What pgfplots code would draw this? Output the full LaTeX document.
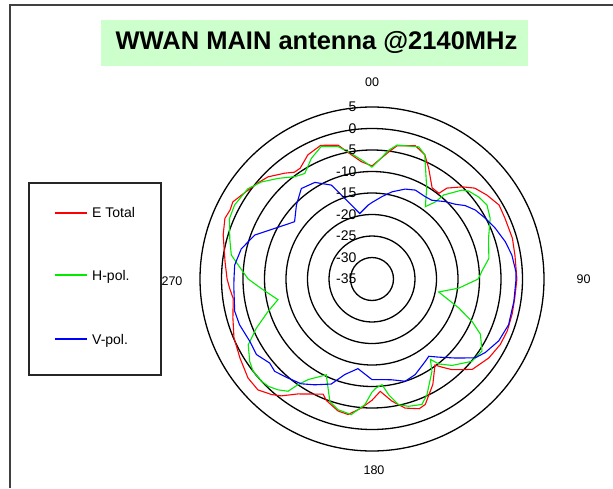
\documentclass[border=0pt]{standalone}
\usepackage{pgfplots}
\pgfplotsset{compat=1.18}
\usepgfplotslibrary{polar}
\usepackage{fontspec}
\setmainfont{Liberation Sans}
\definecolor{titlegreen}{RGB}{204,255,204}
\definecolor{curvered}{RGB}{255,0,0}
\definecolor{curvegreen}{RGB}{0,235,0}
\definecolor{curveblue}{RGB}{0,0,255}
\begin{document}
\begin{tikzpicture}[x=1pt,y=1pt]
\useasboundingbox (0,0) rectangle (613,488);
\fill[white] (0,0) rectangle (613,488);
\draw[black!75, line width=1.5pt] (10,0) -- (10,483) -- (613,483);
\fill[titlegreen] (101,422) rectangle (528,468);
\node[font=\fontsize{25.5}{30}\selectfont\bfseries, anchor=base, inner sep=0pt] at (316.5,438) {WWAN MAIN antenna @2140MHz};
% legend
\draw[black!85, line width=1.5pt, fill=white] (29,113) rectangle (161,305);
\fill[curvered] (55,274) rectangle (87,276);
\fill[curvegreen] (55,212) rectangle (87,214);
\fill[curveblue] (55,148) rectangle (87,150);
\node[anchor=base west, inner sep=0pt, font=\fontsize{14}{16}\selectfont] at (92,270) {E Total};
\node[anchor=base west, inner sep=0pt, font=\fontsize{14}{16}\selectfont] at (92,208) {H-pol.};
\node[anchor=base west, inner sep=0pt, font=\fontsize{14}{16}\selectfont] at (92,144) {V-pol.};
\begin{polaraxis}[
  at={(372pt,209pt)}, anchor=center,
  width=344pt, height=344pt, scale only axis,
  clip=false,
  xmin=0, xmax=360, ymin=0, ymax=40,
  xtick=\empty, ytick={5,10,...,40}, yticklabels={},
  ymajorgrids=true, xmajorgrids=false,
  major grid style={black, line width=1.3pt},
  axis line style={draw=none},
  major tick style={draw=none},
  x filter/.expression={mod(450-x,360)},
  y filter/.expression={y+35},
]
\addplot[draw=curvered, line width=1.1pt] coordinates {
(0,-8.7) (7.5,-5.2) (10.6,-3.5) (18,-2.4) (23,-3.6) (27,-6) (33.4,-9.6) (38,-9.7) (39.5,-7.6)
(44.4,-5) (48.5,-3.1) (53.9,-1.9) (59.8,-0.8) (65.4,-1) (73.8,-1) (80.5,-1.3) (90,-1.3)
(97.6,-1.5) (104,-1.4) (111,-1.3) (117,-1.5) (124,-2.2) (132,-3.6) (135.2,-5.3) (138.6,-6.9)
(142,-9.1) (143.8,-10.2) (150,-6.7) (157,-3.3) (160,-2.9) (165.6,-4) (170.7,-6.2) (175.8,-8.8)
(180,-6.8) (184.7,-4.9) (190,-3) (194.4,-3.3) (200.5,-4.8) (203,-5.9) (208,-4.7) (212.8,-3.2)
(217.8,-0.6) (221,0.6) (225.8,2) (231.4,1.9) (239,0.8) (246.9,-0.1) (254.3,-1.4) (262,-2.4)
(266.4,-1.8) (270,-1.3) (276.6,-0.6) (286.5,1.1) (292.4,2) (295.9,1.7) (299,2) (304,0.8)
(310,-0.3) (314.5,-1.1) (320.5,-3.1) (324,-4.3) (327,-4.3) (332.7,-2.5) (339,-1.7) (345.8,-2.9)
(349,-4.9) (354.8,-7.6) (360,-8.7)
};
\addplot[draw=curvegreen, line width=1.1pt] coordinates {
(0,-9) (7.4,-4.8) (10.6,-3.3) (19.5,-2.4) (23,-3.6) (31,-10.3) (36.4,-14.1) (39.4,-11.8)
(40.5,-9.3) (45.3,-5.6) (47.7,-4.6) (52.5,-3.7) (57.2,-3.2) (62.8,-4.1) (70.8,-6.3) (80,-7.4)
(86,-9.4) (90,-10.3) (96,-14.7) (101,-19.2) (108.5,-13.7) (113,-9.7) (117,-6.7) (123.3,-4.4)
(129.5,-4.9) (137.2,-7.6) (141.9,-9.9) (144,-11.9) (147,-9.4) (154.6,-5.2) (158.3,-3.6)
(164,-4.2) (168,-5.1) (171.8,-7.8) (174.6,-10.3) (178,-9.6) (180,-8.7) (183.3,-5.7) (188.7,-3.1)
(194.6,-3.6) (199,-4.9) (202,-7.7) (205.5,-10.3) (212.4,-7.3) (215,-5) (216.8,-2.4) (220.3,-1.2)
(224,-0.3) (227.3,0) (232.2,0) (236,-0.7) (242,-2.4) (247,-5.8) (252.7,-9.7) (257.6,-12.6)
(265,-9.2) (270,-6.2) (276,-3.7) (279.7,-1.8) (285.9,-0.6) (293,1) (298.3,1.3) (306,0.7)
(311.3,-0.8) (317,-3) (323,-5.2) (327.5,-5.9) (333.3,-3.6) (339,-2) (345.6,-3.2) (350.6,-5.4)
(356.4,-7.7) (360,-9)
};
\addplot[draw=curveblue, line width=1.1pt] coordinates {
(0,-17.2) (6.9,-15.7) (12.9,-14.2) (20.3,-12.7) (26,-12) (33,-12.2) (37.2,-12) (43.5,-10.2)
(48,-9) (51.8,-7.4) (56.3,-6.1) (61.8,-5.1) (67.6,-4) (74.4,-2.8) (80.3,-2) (87,-1.5) (90,-1.5)
(99,-1.6) (108.5,-1.5) (116,-2.2) (123,-3.6) (127.4,-4.8) (133.5,-8.3) (139.5,-11.1)
(143.7,-12.7) (147,-12.2) (155.7,-10.6) (162,-10) (168.8,-11.1) (174.3,-11.5) (180,-11.6)
(188.9,-13.9) (195.9,-11.9) (201.2,-8.8) (208.5,-7) (214,-5.6) (220.3,-4.8) (226.5,-3.8)
(230.6,-4.2) (236.8,-2.9) (243,-3.1) (251,-2.4) (256.8,-2.2) (266,-2.8) (270,-2.9) (275.8,-2.9)
(283,-3.8) (290.6,-5.9) (297.5,-9.5) (306.5,-12.6) (314.4,-10.4) (322,-8.3) (329.4,-8.9)
(336.6,-11.2) (342.8,-16.2) (349.4,-19.5) (357,-17.8) (360,-17.2)
};
\node[anchor=east, xshift=-12pt, font=\fontsize{14}{16}\selectfont] at (axis cs:90,40) {5};
\node[anchor=east, xshift=-12pt, font=\fontsize{14}{16}\selectfont] at (axis cs:90,35) {0};
\node[anchor=east, xshift=-12pt, font=\fontsize{14}{16}\selectfont] at (axis cs:90,30) {-5};
\node[anchor=east, xshift=-12pt, font=\fontsize{14}{16}\selectfont] at (axis cs:90,25) {-10};
\node[anchor=east, xshift=-12pt, font=\fontsize{14}{16}\selectfont] at (axis cs:90,20) {-15};
\node[anchor=east, xshift=-12pt, font=\fontsize{14}{16}\selectfont] at (axis cs:90,15) {-20};
\node[anchor=east, xshift=-12pt, font=\fontsize{14}{16}\selectfont] at (axis cs:90,10) {-25};
\node[anchor=east, xshift=-12pt, font=\fontsize{14}{16}\selectfont] at (axis cs:90,5) {-30};
\node[anchor=east, xshift=-12pt, font=\fontsize{14}{16}\selectfont] at (axis cs:90,0) {-35};
\end{polaraxis}
\node[font=\fontsize{12.5}{15}\selectfont] at (372,405.5) {00};
\node[font=\fontsize{12.5}{15}\selectfont] at (374,18) {180};
\node[font=\fontsize{12.5}{15}\selectfont] at (172,207) {270};
\node[font=\fontsize{12.5}{15}\selectfont] at (583.5,209) {90};
\end{tikzpicture}
\end{document}
